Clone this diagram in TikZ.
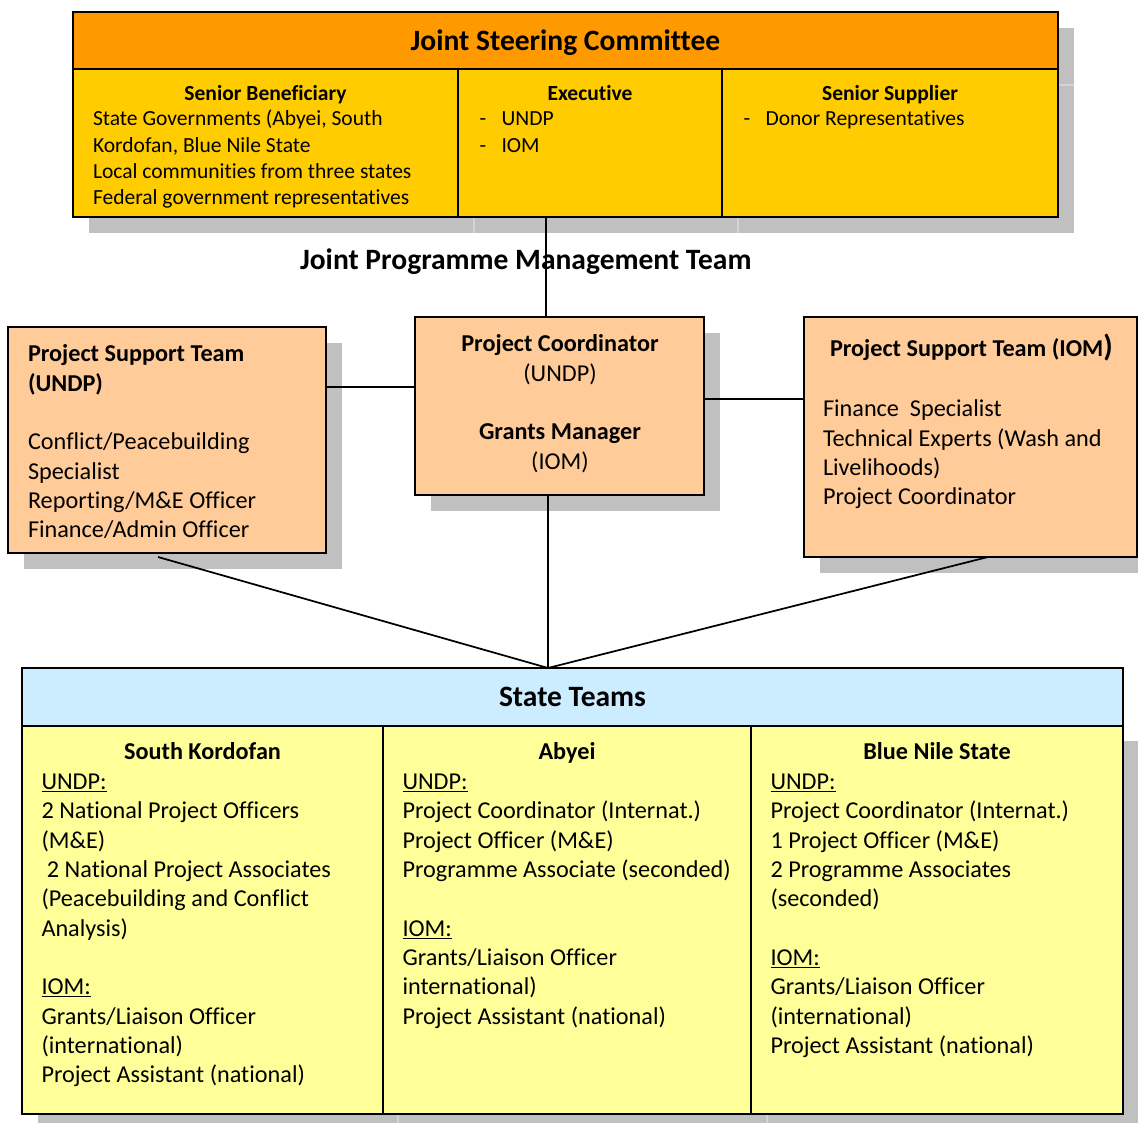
\documentclass[tikz,border=0pt]{standalone}
\usepackage{fontspec}
\setmainfont{Carlito}[Ligatures=NoCommon]
\usetikzlibrary{calc}
\definecolor{jscorange}{HTML}{FF9900}
\definecolor{jscyellow}{HTML}{FFCC00}
\definecolor{peach}{HTML}{FFCC99}
\definecolor{stblue}{HTML}{CCECFF}
\definecolor{styellow}{HTML}{FFFF99}
\definecolor{shadowgray}{HTML}{C0C0C0}
\definecolor{shadowline}{HTML}{D4D4D4}
\newcommand\szA{\fontsize{16.15pt}{19.7pt}\selectfont}
\newcommand\szB{\fontsize{18.17pt}{22pt}\selectfont}
\newcommand\szT{\fontsize{22.15pt}{26pt}\selectfont\bfseries}
\newlength\pu
\setlength\pu{0.75pt}
\tikzset{
  cell/.style={draw=black, line width=1.5pt, anchor=north west, inner sep=0pt, outer sep=0pt},
  shadowbox/.style={fill=shadowgray},
  shline/.style={draw=shadowline, line width=0.8pt},
  conn/.style={draw=black, line width=1.3pt},
  txtA/.style={inner sep=0pt, outer sep=0pt, font=\szA, align=left},
  txtB/.style={inner sep=0pt, outer sep=0pt, font=\szB, align=left},
  txtC/.style={inner sep=0pt, outer sep=0pt, font=\szB, align=center},
  ttl/.style={inner sep=0pt, outer sep=0pt, font=\szT, anchor=base}
}
\begin{document}
\begin{tikzpicture}[x=0.75pt,y=-0.75pt]
\useasboundingbox (0,0) rectangle (1138,1123);
\clip (0,0) rectangle (1138,1123);
% shadows
\fill[shadowbox] (89,28) rectangle (1074,233);
\fill[shadowbox] (431,333) rectangle (720,511);
\fill[shadowbox] (24,343) rectangle (342,569);
\fill[shadowbox] (820,333) rectangle (1160,573);
\fill[shadowbox] (38,741) rectangle (1139,1135);
\draw[shline] (474,217) -- (474,233);
\draw[shline] (738,217) -- (738,233);
\draw[shline] (1058,85) -- (1074,85);
\draw[shline] (398,1114) -- (398,1123);
\draw[shline] (767,1114) -- (767,1123);
% Joint Steering Committee
\node[cell, fill=jscorange, minimum width=985\pu, minimum height=57\pu] (jsch) at (73,12) {};
\node[cell, fill=jscyellow, minimum width=385\pu, minimum height=148\pu] (sb) at (73,69) {};
\node[cell, fill=jscyellow, minimum width=264\pu, minimum height=148\pu] (ex) at (458,69) {};
\node[cell, fill=jscyellow, minimum width=336\pu, minimum height=148\pu] (ss) at (722,69) {};
\node[ttl] (jsct) at (565.5,50.5) {Joint Steering Committee};
\node[txtA, anchor=base] (sbh) at (265.5,101) {\textbf{Senior Beneficiary}};
\node[txtA, anchor=north west] (sbt) at (93,107.6) {\strut State Governments (Abyei, South\\Kordofan, Blue Nile State\\Local communities from three states\\Federal government representatives};
\node[txtA, anchor=base] (exh) at (590,101) {\textbf{Executive}};
\node[txtA, anchor=north west] (ext) at (479.7,107.6) {\strut\makebox[16.4pt][l]{-}UNDP\\\makebox[16.4pt][l]{-}IOM};
\node[txtA, anchor=base] (ssh) at (890,101) {\textbf{Senior Supplier}};
\node[txtA, anchor=north west] (sst) at (743.7,107.6) {\strut\makebox[16.4pt][l]{-}Donor Representatives};
% Middle boxes
\node[ttl] (jpmt) at (525.8,270) {Joint Programme Management Team};
\node[cell, fill=peach, minimum width=289\pu, minimum height=178\pu] (pc) at (415,317) {};
\node[cell, fill=peach, minimum width=318\pu, minimum height=226\pu] (pstu) at (8,327) {};
\node[cell, fill=peach, minimum width=333\pu, minimum height=240\pu] (psti) at (804,317) {};
\node[txtC, anchor=north] (pct) at (560,331.2) {\strut\textbf{Project Coordinator}\\(UNDP)\\\strut\\\textbf{Grants Manager}\\(IOM)};
\node[txtB, anchor=north west] (pstut) at (28,341.2) {\strut\textbf{Project Support Team}\\\textbf{(UNDP)}\\\strut\\Conflict/Peacebuilding\\Specialist\\Reporting/M\&E Officer\\Finance/Admin Officer};
\node[txtB, anchor=base west] (pstih) at (830,356.7) {\textbf{Project Support Team (IOM}{\fontsize{22.8pt}{26pt}\selectfont\bfseries )}};
\node[txtB, anchor=north west] (pstit) at (823,396.2) {\strut Finance\ \ Specialist\\Technical Experts (Wash and\\Livelihoods)\\Project Coordinator};
% State Teams
\node[cell, fill=stblue, minimum width=1101\pu, minimum height=58\pu] (sth) at (22,668) {};
\node[cell, fill=styellow, minimum width=361\pu, minimum height=388\pu] (sk) at (22,726) {};
\node[cell, fill=styellow, minimum width=368\pu, minimum height=388\pu] (ab) at (383,726) {};
\node[cell, fill=styellow, minimum width=372\pu, minimum height=388\pu] (bn) at (751,726) {};
\node[ttl] (stt) at (572.5,706.3) {State Teams};
\node[txtB, anchor=base] (skh) at (202.5,759) {\textbf{South Kordofan}};
\node[txtB, anchor=base] (abh) at (567,759) {\textbf{Abyei}};
\node[txtB, anchor=base] (bnh) at (937,759) {\textbf{Blue Nile State}};
\node[txtB, anchor=north west] (skt) at (41.5,768.8) {\strut\underline{UNDP:}\\2 National Project Officers\\(M\&E)\\\ 2 National Project Associates\\(Peacebuilding and Conflict\\Analysis)\\\strut\\\underline{IOM:}\\Grants/Liaison Officer\\(international)\\Project Assistant (national)};
\node[txtB, anchor=north west] (abt) at (402.5,768.8) {\strut\underline{UNDP:}\\Project Coordinator (Internat.)\\Project Officer (M\&E)\\Programme Associate (seconded)\\\strut\\\underline{IOM:}\\Grants/Liaison Officer\\international)\\Project Assistant (national)};
\node[txtB, anchor=north west] (bnt) at (770.5,768.8) {\strut\underline{UNDP:}\\Project Coordinator (Internat.)\\1 Project Officer (M\&E)\\2 Programme Associates\\(seconded)\\\strut\\\underline{IOM:}\\Grants/Liaison Officer\\(international)\\Project Assistant (national)};
% connectors
\draw[conn] (ex.south -| 546,0) -- (pc.north -| 546,0);
\draw[conn] (pstu.east |- 0,387) -- (pc.west |- 0,387);
\draw[conn] (pc.east |- 0,399) -- (psti.west |- 0,399);
\draw[conn] (pc.south -| 548,0) -- (sth.north -| 548,0);
\draw[conn] ($(pstu.south -| 158,0)+(0,4)$) -- (sth.north -| 548,0);
\draw[conn] (psti.south -| 988,0) -- (sth.north -| 548,0);
\end{tikzpicture}
\end{document}
